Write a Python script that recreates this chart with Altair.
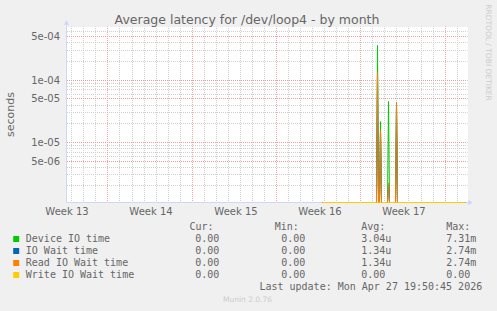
import altair as alt
import pandas as pd

# ---------------- data ----------------
title_text = "Average latency for /dev/loop4 - by month"
y_title = "seconds"

series_names = ["Device IO time", "IO Wait time", "Read IO Wait time", "Write IO Wait time"]
series_colors = ["#00CC00", "#0066B3", "#FF8000", "#FFCC00"]

# time in days since the left edge of the graph (2-hour samples)
days = [21.24, 25.71, 25.79, 25.87, 26.02, 26.10, 26.19, 26.69, 26.77, 26.85, 27.30, 27.38, 27.47, 33.14]
device_io = [0, 0, 3.57e-4, 0, 0, 2.21e-5, 0, 0, 4.64e-5, 0, 0, 4.30e-5, 0, 0]
io_wait = [0, 0, 1.36e-4, 0, 0, 1.58e-5, 0, 0, 2.19e-6, 0, 0, 4.47e-5, 0, 0]
read_io_wait = [0, 0, 1.36e-4, 0, 0, 1.58e-5, 0, 0, 2.19e-6, 0, 0, 4.47e-5, 0, 0]
write_io_wait = [0, 0, 0, 0, 0, 0, 0, 0, 0, 0, 0, 0, 0, 0]
series_values = [device_io, io_wait, read_io_wait, write_io_wait]

cur_col = ["0.00", "0.00", "0.00", "0.00"]
min_col = ["0.00", "0.00", "0.00", "0.00"]
avg_col = ["3.04u", "1.34u", "1.34u", "0.00"]
max_col = ["7.31m", "2.74m", "2.74m", "0.00"]
last_update = "Last update: Mon Apr 27 19:50:45 2026"
footer = "Munin 2.0.76"
side_text = "RRDTOOL / TOBI OETIKER"

week_pos = [0, 7, 14, 21, 28]
week_labels = ["Week 13", "Week 14", "Week 15", "Week 16", "Week 17"]
y_ticks = [5e-6, 1e-5, 5e-5, 1e-4, 5e-4]
y_labels = ["5e-06", "1e-05", "5e-05", "1e-04", "5e-04"]

x_domain = [0, 33.3]
y_domain = [1.077e-6, 7.35e-4]

day_grid = [0.44 + k for k in range(33)]
week_grid = [3.44 + 7 * k for k in range(5)]
day_minor = [d for d in day_grid if all(abs(d - w) > 0.01 for w in week_grid)]
y_minor = [m * 10.0 ** e for e in (-6, -5, -4) for m in range(2, 10)
           if m != 5 and y_domain[0] <= m * 10.0 ** e <= 6.5e-4]

W, H = 401, 176
FONT = "DejaVu Sans"
MONO = "DejaVu Sans Mono"
FC = "#666666"
AXC = "#CFD6F8"

def chain_expr(vals, labels):
    parts = []
    for v, lab in zip(vals, labels):
        parts.append(f"abs(datum.value - {v}) < {abs(v) * 1e-3 + 1e-12} ? '{lab}' : ")
    return "".join(parts) + "''"

xscale = alt.Scale(domain=x_domain, nice=False, zero=False, round=True)
yscale = alt.Scale(type="log", domain=y_domain, nice=False, clamp=True, round=True)
xaxis = alt.Axis(values=week_pos, labelExpr=chain_expr(week_pos, week_labels), grid=False,
                 ticks=False, domain=False, title=None, labelFont=FONT, labelFontSize=10,
                 labelColor=FC, labelPadding=4, labelFlush=False, labelOverlap=False)
yaxis = alt.Axis(values=y_ticks, labelExpr=chain_expr(y_ticks, y_labels), grid=False,
                 ticks=False, domain=False, title=None, labelFont=FONT, labelFontSize=10,
                 labelColor=FC, labelPadding=7, labelOverlap=False)

layers = []
one = pd.DataFrame({"k": [0]})

# white canvas, pixel aligned
layers.append(alt.Chart(one).mark_rect(color="#FFFFFF", opacity=1).encode(
    x=alt.value(0.5), x2=alt.value(W + 0.5), y=alt.value(0.5), y2=alt.value(H + 0.5)))

# grid (dotted, dash pattern aligned to the pixel grid)
gk = dict(strokeDash=[1, 1], strokeDashOffset=0.5, strokeWidth=1)
layers.append(alt.Chart(pd.DataFrame({"gy": y_minor})).mark_rule(color="#d0d0d0", **gk).encode(
    y=alt.Y("gy:Q", scale=yscale, axis=yaxis)))
layers.append(alt.Chart(pd.DataFrame({"gx": day_minor})).mark_rule(color="#d0d0d0", **gk).encode(
    x=alt.X("gx:Q", scale=xscale, axis=xaxis)))
layers.append(alt.Chart(pd.DataFrame({"gy": y_ticks})).mark_rule(color="#eb9d9d", **gk).encode(
    y=alt.Y("gy:Q", scale=yscale, axis=yaxis)))
layers.append(alt.Chart(pd.DataFrame({"gx": week_grid})).mark_rule(color="#eda5a5", **gk).encode(
    x=alt.X("gx:Q", scale=xscale, axis=xaxis)))

# axis lines & arrows
layers.append(alt.Chart(one).mark_rule(color=AXC, strokeWidth=1).encode(
    x=alt.value(0), y=alt.value(-4), y2=alt.value(H)))
layers.append(alt.Chart(one).mark_rule(color=AXC, strokeWidth=1).encode(
    x=alt.value(0), x2=alt.value(W + 3), y=alt.value(H)))
layers.append(alt.Chart(one).mark_point(shape="triangle-up", filled=True, color=AXC, size=28, opacity=1).encode(
    x=alt.value(0), y=alt.value(-4)))
layers.append(alt.Chart(one).mark_point(shape="triangle-right", filled=True, color=AXC, size=28, opacity=1).encode(
    x=alt.value(W + 3), y=alt.value(H)))

# data series
for name, color, vals in zip(series_names, series_colors, series_values):
    df = pd.DataFrame({"day": days, "value": vals, "series": name})
    layers.append(alt.Chart(df).transform_calculate(
        v="max(datum.value, 1e-7)").mark_line(color=color, strokeWidth=1, interpolate="linear").encode(
        x=alt.X("day:Q", scale=xscale, axis=xaxis),
        y=alt.Y("v:Q", scale=yscale, axis=yaxis)))

def text_layer(txt, x, y, **kw):
    return alt.Chart(pd.DataFrame({"t": [txt]})).mark_text(**kw).encode(
        x=alt.value(x), y=alt.value(y), text="t:N")

# titles
layers.append(text_layer(title_text, 180.5, -3, font=FONT, fontSize=12.5, color=FC,
                         align="center", baseline="alphabetic"))
layers.append(text_layer(y_title, -56, 88, font=FONT, fontSize=11, color=FC,
                         align="center", baseline="middle", angle=270))
layers.append(text_layer(side_text, 421, 26, font=FONT, fontSize=7.5, color="#cccccc",
                         align="center", baseline="middle", angle=90))
layers.append(text_layer(footer, 181, 273.7, font=FONT, fontSize=7.5, color="#cccccc",
                         align="center", baseline="middle"))

# legend
row0 = 212.5
lh = 12
tk = dict(font=MONO, fontSize=10, color=FC, baseline="middle", align="left")
layers.append(text_layer("Cur:", 123, row0 - lh, **tk))
layers.append(text_layer("Min:", 208.3, row0 - lh, **tk))
layers.append(text_layer("Avg:", 294.7, row0 - lh, **tk))
layers.append(text_layer("Max:", 379.7, row0 - lh, **tk))
for i, (name, color) in enumerate(zip(series_names, series_colors)):
    y = row0 + i * lh
    layers.append(alt.Chart(one).mark_square(filled=True, color=color, size=36, opacity=1).encode(
        x=alt.value(-50.3), y=alt.value(y)))
    layers.append(text_layer(name, -40.7, y, **tk))
    layers.append(text_layer(cur_col[i], 128.7, y, **tk))
    layers.append(text_layer(min_col[i], 214.7, y, **tk))
    layers.append(text_layer(avg_col[i], 294.7, y, **tk))
    layers.append(text_layer(max_col[i], 379.7, y, **tk))
layers.append(text_layer(last_update, 415.7, row0 + 4 * lh,
                         font=MONO, fontSize=10, color=FC, baseline="middle", align="right"))

chart = alt.layer(*layers).properties(
    width=W, height=H,
    autosize=alt.AutoSizeParams(type="none"),
    padding={"left": 66.5, "top": 26.5, "right": 29.5, "bottom": 108.5},
).configure(background="#F0F0F0").configure_view(fill=None, strokeWidth=0)

chart.save("out.html", embed_options={"renderer": "svg", "actions": False})
